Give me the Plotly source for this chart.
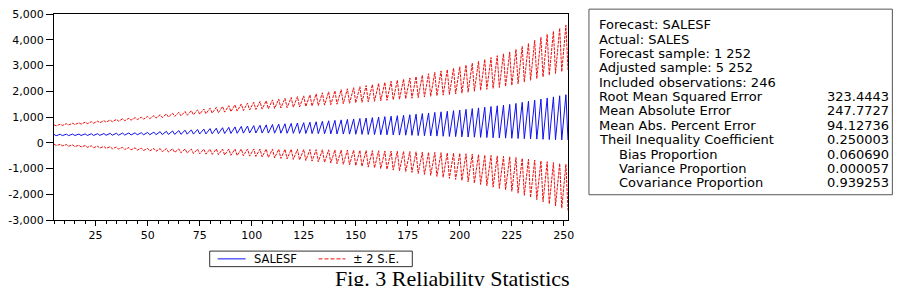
import plotly.graph_objects as go

# ---------------- data ----------------
obs = list(range(5, 253))

forecast = [
    325, 275, 300, 329, 277, 303, 333, 278, 306, 336, 280, 308, 340, 281, 311,
    344, 283, 314, 348, 284, 316, 352, 286, 319, 358, 289, 324, 364, 292, 328,
    370, 295, 333, 376, 298, 337, 382, 301, 342, 388, 304, 346, 394, 307, 351,
    400, 310, 355, 414, 314, 364, 429, 317, 373, 443, 321, 382, 458, 324, 391,
    472, 328, 400, 486, 332, 409, 501, 335, 418, 515, 339, 427, 531, 343, 437,
    548, 348, 448, 565, 353, 459, 582, 358, 470, 598, 362, 480, 615, 367, 491,
    632, 372, 502, 649, 377, 513, 665, 379, 522, 679, 377, 528, 694, 374, 534,
    708, 372, 540, 722, 370, 546, 737, 367, 552, 751, 365, 558, 766, 362, 564,
    780, 360, 570, 798, 356, 577, 816, 352, 584, 834, 349, 592, 852, 344, 598,
    870, 342, 606, 888, 338, 613, 906, 335, 621, 924, 331, 628, 942, 327, 635,
    960, 322, 641, 978, 317, 648, 996, 312, 654, 1014, 308, 661, 1032, 303, 668,
    1050, 298, 674, 1068, 293, 681, 1088, 288, 688, 1110, 280, 695, 1133, 273, 703,
    1156, 266, 711, 1179, 259, 719, 1202, 252, 727, 1224, 244, 734, 1247, 237, 742,
    1270, 230, 750, 1298, 223, 761, 1325, 216, 771, 1353, 208, 781, 1380, 201, 791,
    1408, 194, 801, 1436, 187, 812, 1463, 180, 822, 1491, 172, 832, 1528, 165, 847,
    1570, 157, 864, 1612, 149, 881, 1655, 142, 899, 1697, 134, 916, 1739, 126, 933,
    1782, 118, 950, 1824, 110, 967, 1866, 103,
]

two_se = [
    375, 380, 386, 391, 396, 401, 406, 411, 417, 422, 427, 433, 438, 443, 449,
    454, 459, 465, 470, 475, 481, 486, 491, 497, 502, 508, 513, 519, 525, 530,
    536, 542, 547, 553, 559, 564, 570, 575, 581, 586, 592, 597, 603, 609, 614,
    620, 626, 632, 638, 644, 650, 656, 662, 668, 674, 680, 686, 692, 698, 704,
    710, 716, 722, 728, 734, 740, 746, 752, 758, 764, 769, 775, 780, 785, 791,
    796, 801, 806, 811, 816, 822, 827, 832, 838, 843, 848, 853, 858, 863, 869,
    874, 879, 885, 890, 895, 901, 906, 911, 917, 922, 928, 933, 939, 945, 950,
    956, 962, 967, 973, 979, 984, 990, 995, 1001, 1006, 1012, 1017, 1023, 1029, 1034,
    1040, 1047, 1055, 1062, 1069, 1076, 1083, 1090, 1098, 1105, 1112, 1119, 1126, 1133, 1141,
    1148, 1155, 1163, 1170, 1177, 1184, 1191, 1198, 1206, 1213, 1221, 1228, 1236, 1244, 1252,
    1260, 1268, 1276, 1284, 1292, 1300, 1308, 1316, 1324, 1332, 1340, 1348, 1356, 1364, 1372,
    1380, 1388, 1396, 1404, 1413, 1421, 1430, 1441, 1451, 1462, 1472, 1483, 1493, 1503, 1514,
    1524, 1534, 1545, 1555, 1565, 1576, 1586, 1597, 1607, 1618, 1628, 1639, 1649, 1659, 1670,
    1680, 1695, 1709, 1724, 1739, 1754, 1769, 1784, 1798, 1813, 1828, 1843, 1858, 1873, 1887,
    1902, 1917, 1931, 1946, 1961, 1976, 1991, 2006, 2020, 2035, 2057, 2078, 2100, 2125, 2150,
    2175, 2200, 2225, 2250, 2275, 2300, 2325, 2350, 2375, 2400, 2425, 2450, 2475, 2500, 2525,
    2550, 2575, 2600, 2625, 2650, 2675, 2700, 2725,
]

series_names = ["SALESF", "\u00b1 2 S.E."]

y_tickvals = [5000, 4000, 3000, 2000, 1000, 0, -1000, -2000, -3000]
y_ticktext = ["5,000", "4,000", "3,000", "2,000", "1,000", "0", "-1,000", "-2,000", "-3,000"]
x_tickvals = [25, 50, 75, 100, 125, 150, 175, 200, 225, 250]

stat_labels = [
    "Forecast: SALESF",
    "Actual: SALES",
    "Forecast sample: 1 252",
    "Adjusted sample: 5 252",
    "Included observations: 246",
    "Root Mean Squared Error",
    "Mean Absolute Error",
    "Mean Abs. Percent Error",
    "Theil Inequality Coefficient",
    "Bias Proportion",
    "Variance Proportion",
    "Covariance Proportion",
]
stat_values = ["", "", "", "", "", "323.4443", "247.7727", "94.12736",
               "0.250003", "0.060690", "0.000057", "0.939253"]
stat_indent = [False] * 9 + [True] * 3

caption = "Fig. 3 Reliability Statistics"

# ---------------- figure ----------------
W, H = 904, 286
L, R, T, B = 53, 568, 8, 220

BLUE = "#1010ee"
RED = "#ee1010"


def px(X):
    return (X - L) / (R - L)


def py(Y):
    return (B - Y) / (B - T)


upper = [f + s for f, s in zip(forecast, two_se)]
lower = [f - s for f, s in zip(forecast, two_se)]

fig = go.Figure()
fig.add_trace(go.Scatter(
    x=obs, y=forecast, mode="lines", name=series_names[0],
    line=dict(color=BLUE, width=1), showlegend=False,
))
fig.add_trace(go.Scatter(
    x=obs + [None] + obs, y=upper + [None] + lower, mode="lines",
    name=series_names[1], connectgaps=False, showlegend=False,
    line=dict(color=RED, width=1, dash="3px,1px"),
))

tick_font = dict(family="DejaVu Sans, sans-serif", size=11, color="black")

fig.update_layout(
    width=W, height=H,
    margin=dict(l=L, r=W - R, t=T, b=H - B, pad=0),
    paper_bgcolor="white", plot_bgcolor="white",
    showlegend=False,
    xaxis=dict(
        range=[5, 252], tickvals=x_tickvals, ticks="outside", ticklen=5,
        tickcolor="black", showline=True, linecolor="black", linewidth=1,
        mirror=True, showgrid=False, zeroline=False, tickfont=tick_font,
        minor=dict(dtick=5, tick0=0, ticks="outside", ticklen=3, tickcolor="black", showgrid=False),
    ),
    yaxis=dict(
        range=[-3000, 5000], tickvals=y_tickvals, ticktext=y_ticktext,
        ticks="outside", ticklen=7, tickcolor="black", showline=True,
        linecolor="black", linewidth=1, mirror=True, showgrid=False,
        zeroline=False, tickfont=tick_font,
    ),
)

# legend box (drawn below the plot)
leg_font = dict(family="DejaVu Sans, sans-serif", size=11.5, color="black")
fig.add_shape(type="rect", xref="paper", yref="paper",
              x0=px(209), x1=px(412), y0=py(252), y1=py(268),
              line=dict(color="#333333", width=1), fillcolor="white")
fig.add_shape(type="line", xref="paper", yref="paper",
              x0=px(217), x1=px(245), y0=py(260), y1=py(260),
              line=dict(color=BLUE, width=1))
fig.add_shape(type="line", xref="paper", yref="paper",
              x0=px(318), x1=px(345), y0=py(260), y1=py(260),
              line=dict(color=RED, width=1, dash="4px,2px"))
fig.add_annotation(xref="paper", yref="paper", x=px(251), y=py(260),
                   text=series_names[0], showarrow=False, xanchor="left",
                   yanchor="middle", align="left", font=leg_font)
fig.add_annotation(xref="paper", yref="paper", x=px(351), y=py(260),
                   text=series_names[1], showarrow=False, xanchor="left",
                   yanchor="middle", align="left", font=leg_font)

# statistics box
fig.add_shape(type="rect", xref="paper", yref="paper",
              x0=px(589), x1=px(893), y0=py(3), y1=py(194),
              line=dict(color="#555555", width=1), fillcolor="white")

stat_font = dict(family="DejaVu Sans, sans-serif", size=13, color="black")
for i, (lab, val, ind) in enumerate(zip(stat_labels, stat_values, stat_indent)):
    yc = 19 + i * 14.8
    fig.add_annotation(xref="paper", yref="paper", x=px(617 if ind else 597), y=py(yc),
                       text=lab, showarrow=False, xanchor="left", yanchor="middle",
                       align="left", font=stat_font)
    if val:
        fig.add_annotation(xref="paper", yref="paper", x=px(892), y=py(yc),
                           text=val, showarrow=False, xanchor="right", yanchor="middle",
                           align="right", font=stat_font)

fig.add_annotation(xref="paper", yref="paper", x=px(452), y=py(265),
                   text=caption, showarrow=False, xanchor="center", yanchor="top",
                   font=dict(family="Liberation Serif, Times New Roman, serif", size=22, color="black"))

fig.write_html("out.html")
